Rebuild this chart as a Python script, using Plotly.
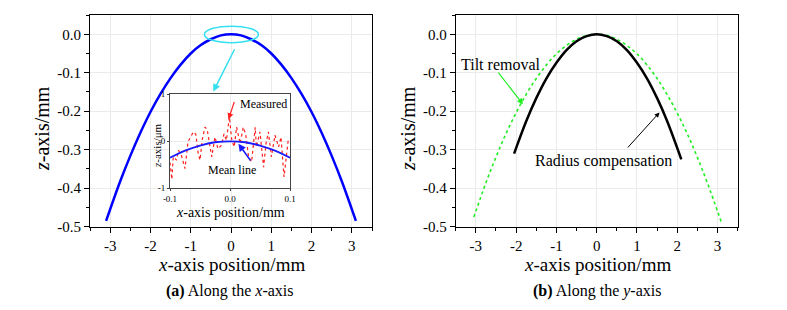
import plotly.graph_objects as go

# ---- data ----
# (a) profile along x-axis
a_x = [-3.1, -2.75, -2.5, -2.25, -2.0, -1.75, -1.5, -1.25, -1.0, -0.75, -0.5, -0.25, 0.0,
       0.25, 0.5, 0.75, 1.0, 1.25, 1.5, 1.75, 2.0, 2.25, 2.5, 2.75, 3.1]
a_z = [-0.485, -0.382, -0.316, -0.256, -0.202, -0.155, -0.114, -0.079, -0.050, -0.028, -0.013, -0.003, 0.0,
       -0.003, -0.013, -0.028, -0.050, -0.079, -0.114, -0.155, -0.202, -0.256, -0.316, -0.382, -0.485]

# inset: measured (um) and mean line
m_x = [-0.1, -0.097, -0.0945, -0.089, -0.086, -0.081, -0.075, -0.070, -0.061, -0.057, -0.053, -0.050,
       -0.046, -0.0417, -0.038, -0.033, -0.0305, -0.025, -0.020, -0.014, -0.010, -0.006, -0.001,
       0.003, 0.007, 0.011, 0.017, 0.022, 0.026, 0.031, 0.036, 0.042, 0.044, 0.050, 0.056,
       0.060, 0.064, 0.069, 0.075, 0.081, 0.085, 0.090, 0.097, 0.100]
m_z = [-0.45, -0.81, -0.33, -0.40, -0.19, -0.30, -0.58, -0.01, 0.20, 0.15, -0.26, -0.40,
       0.05, 0.30, 0.25, -0.16, -0.33, 0.09, -0.16, -0.08, 0.16, 0.02, 0.52,
       0.02, -0.12, 0.30, -0.05, 0.30, 0.16, -0.33, -0.44, 0.30, -0.12, 0.20, -0.55,
       -0.05, 0.20, -0.33, 0.13, -0.12, 0.09, -0.76, 0.02, 0.05]
mean_x = [-0.1, -0.075, -0.05, -0.025, 0.0, 0.025, 0.05, 0.075, 0.1]
mean_z = [-0.35, -0.20, -0.09, -0.02, 0.0, -0.02, -0.09, -0.20, -0.35]

# (b) profiles along y-axis
tilt_x = [-3.05, -2.75, -2.5, -2.25, -2.0, -1.75, -1.5, -1.25, -1.0, -0.75, -0.5, -0.25, 0.0,
          0.25, 0.5, 0.75, 1.0, 1.25, 1.5, 1.75, 2.0, 2.25, 2.5, 2.75, 3.1]
tilt_z = [-0.475, -0.386, -0.319, -0.258, -0.204, -0.156, -0.115, -0.080, -0.051, -0.029, -0.013, -0.003, 0.0,
          -0.003, -0.013, -0.029, -0.051, -0.080, -0.115, -0.157, -0.205, -0.259, -0.320, -0.387, -0.490]
rad_x = [-2.05, -1.75, -1.5, -1.25, -1.0, -0.75, -0.5, -0.25, 0.0, 0.25, 0.5, 0.75, 1.0, 1.25, 1.5, 1.75, 2.1]
rad_z = [-0.310, -0.226, -0.166, -0.115, -0.074, -0.041, -0.018, -0.005, 0.0,
         -0.005, -0.018, -0.041, -0.074, -0.115, -0.166, -0.226, -0.325]

xt_vals = [-3, -2, -1, 0, 1, 2, 3]
xt_text = ["-3", "-2", "-1", "0", "1", "2", "3"]
yt_vals = [0.0, -0.1, -0.2, -0.3, -0.4, -0.5]
yt_text = ["0.0", "-0.1", "-0.2", "-0.3", "-0.4", "-0.5"]
in_xt_vals = [-0.1, 0.0, 0.1]
in_xt_text = ["-0.1", "0.0", "0.1"]
in_yt_vals = [1, 0, -1]
in_yt_text = ["1", "0", "-1"]

FONT = "'Liberation Serif', 'Times New Roman', Times, serif"
W, H = 787, 310

fig = go.Figure()
fig.add_trace(go.Scatter(x=a_x, y=a_z, mode="lines", line=dict(color="#0000ff", width=2.5, shape="spline"),
                         xaxis="x", yaxis="y", showlegend=False))
fig.add_trace(go.Scatter(x=m_x, y=m_z, mode="lines", line=dict(color="#ff2020", width=1.2, dash="dot"),
                         xaxis="x3", yaxis="y3", showlegend=False))
fig.add_trace(go.Scatter(x=mean_x, y=mean_z, mode="lines", line=dict(color="#1a1aff", width=1.8, shape="spline"),
                         xaxis="x3", yaxis="y3", showlegend=False))
fig.add_trace(go.Scatter(x=tilt_x, y=tilt_z, mode="lines", line=dict(color="#22ee22", width=1.6, dash="dot", shape="spline"),
                         xaxis="x2", yaxis="y2", showlegend=False))
fig.add_trace(go.Scatter(x=rad_x, y=rad_z, mode="lines", line=dict(color="#000000", width=2.5, shape="spline"),
                         xaxis="x2", yaxis="y2", showlegend=False))

def px_x(p):
    return p / W

def px_y(p):
    return 1 - p / H

main_x = dict(range=[-3.5, 3.5], tickvals=xt_vals, ticktext=xt_text, showline=True, linecolor="black",
              linewidth=1, mirror=True, ticks="outside", ticklen=5, tickcolor="black",
              minor=dict(ticks="outside", dtick=0.5, ticklen=3, tickcolor="black", showgrid=False),
              showgrid=True, gridcolor="#ebebeb", gridwidth=1, zeroline=False,
              tickfont=dict(family=FONT, size=15, color="black"))
main_y = dict(range=[-0.5, 0.05], tickvals=yt_vals, ticktext=yt_text, showline=True, linecolor="black",
              linewidth=1, mirror=True, ticks="outside", ticklen=5, tickcolor="black",
              minor=dict(ticks="outside", dtick=0.05, ticklen=3, tickcolor="black", showgrid=False),
              showgrid=True, gridcolor="#ebebeb", gridwidth=1, zeroline=False,
              tickfont=dict(family=FONT, size=15, color="black"))

ydom = [px_y(226.7), px_y(15)]
fig.update_layout(
    width=W, height=H, margin=dict(l=0, r=0, t=0, b=0, autoexpand=False),
    paper_bgcolor="white", plot_bgcolor="white",
    xaxis=dict(main_x, domain=[px_x(90), px_x(372)], anchor="y"),
    yaxis=dict(main_y, domain=ydom, anchor="x"),
    xaxis2=dict(main_x, domain=[px_x(455.7), px_x(737.7)], anchor="y2"),
    yaxis2=dict(main_y, domain=ydom, anchor="x2"),
    xaxis3=dict(domain=[px_x(170), px_x(290)], anchor="y3", range=[-0.1, 0.1], tickvals=in_xt_vals,
                ticktext=in_xt_text, showline=True, linecolor="#444", linewidth=1, mirror=True,
                ticks="outside", ticklen=2, tickcolor="#444", showgrid=True, gridcolor="#ebebeb", zeroline=False,
                tickfont=dict(family=FONT, size=9, color="black")),
    yaxis3=dict(domain=[px_y(188.3), px_y(94.3)], anchor="x3", range=[-1, 1], tickvals=in_yt_vals,
                ticktext=in_yt_text, showline=True, linecolor="#444", linewidth=1, mirror=True,
                ticks="outside", ticklen=2, tickcolor="#444", showgrid=True, gridcolor="#ebebeb", zeroline=False,
                tickfont=dict(family=FONT, size=9, color="black")),
    font=dict(family=FONT, color="black"),
)

# white background for inset
fig.add_shape(type="rect", xref="paper", yref="paper", x0=px_x(170), x1=px_x(290), y0=px_y(188.3), y1=px_y(94.3),
              fillcolor="white", line=dict(width=0), layer="below")

# cyan ellipse around apex
fig.add_shape(type="circle", xref="x", yref="y", x0=-0.66, x1=0.68, y0=-0.022, y1=0.021,
              line=dict(color="#33e0f0", width=1.5))

ann = []
def txt(x, y, s, size, xref="paper", yref="paper", angle=0):
    ann.append(dict(x=x, y=y, xref=xref, yref=yref, text=s, showarrow=False, textangle=angle,
                    xanchor="center", yanchor="middle",
                    font=dict(family=FONT, size=size, color="black")))

def arrow(x, y, ax, ay, xr, yr, color, width=1.2):
    ann.append(dict(x=x, y=y, ax=ax, ay=ay, xref=xr, yref=yr, axref=xr, ayref=yr, text="",
                    showarrow=True, arrowhead=2, arrowsize=1, arrowwidth=width, arrowcolor=color))

# axis titles
txt(px_x(231), px_y(264), "<i>x</i>-axis position/mm", 19)
txt(px_x(597), px_y(264), "<i>x</i>-axis position/mm", 19)
txt(px_x(42), px_y(129), "<i>z</i>-axis/mm", 20, angle=-90)
txt(px_x(408), px_y(129), "<i>z</i>-axis/mm", 20, angle=-90)
# inset titles
txt(px_x(230), px_y(212), "<i>x</i>-axis position/mm", 14)
txt(px_x(157), px_y(146), "<i>z</i>-axis/μm", 11, angle=-90)
# captions
txt(px_x(230), px_y(291), "<b>(a)</b> Along the <i>x</i>-axis", 16)
txt(px_x(597), px_y(291), "<b>(b)</b> Along the <i>y</i>-axis", 16)

# cyan arrow to inset
arrow(-0.44, -0.149, 0.107, -0.035, "x", "y", "#33e0f0", 1.5)
# inset annotations
txt(0.056, 0.80, "Measured", 12, xref="x3", yref="y3")
arrow(-0.0025, 0.47, 0.008, 0.87, "x3", "y3", "#ff2020", 1.2)
txt(0.004, -0.60, "Mean line", 12, xref="x3", yref="y3")
arrow(0.014, -0.05, 0.036, -0.44, "x3", "y3", "#1a1aff", 1.5)
# (b) annotations
txt(-2.38, -0.079, "Tilt removal", 16, xref="x2", yref="y2")
arrow(-1.83, -0.182, -2.47, -0.096, "x2", "y2", "#22ee22", 1.2)
txt(0.16, -0.33, "Radius compensation", 16, xref="x2", yref="y2")
arrow(1.56, -0.203, 0.74, -0.298, "x2", "y2", "black", 1.0)

fig.update_layout(annotations=ann)
fig.write_html("out.html", config={"displayModeBar": False},
               post_script="document.body.style.margin='0';")
